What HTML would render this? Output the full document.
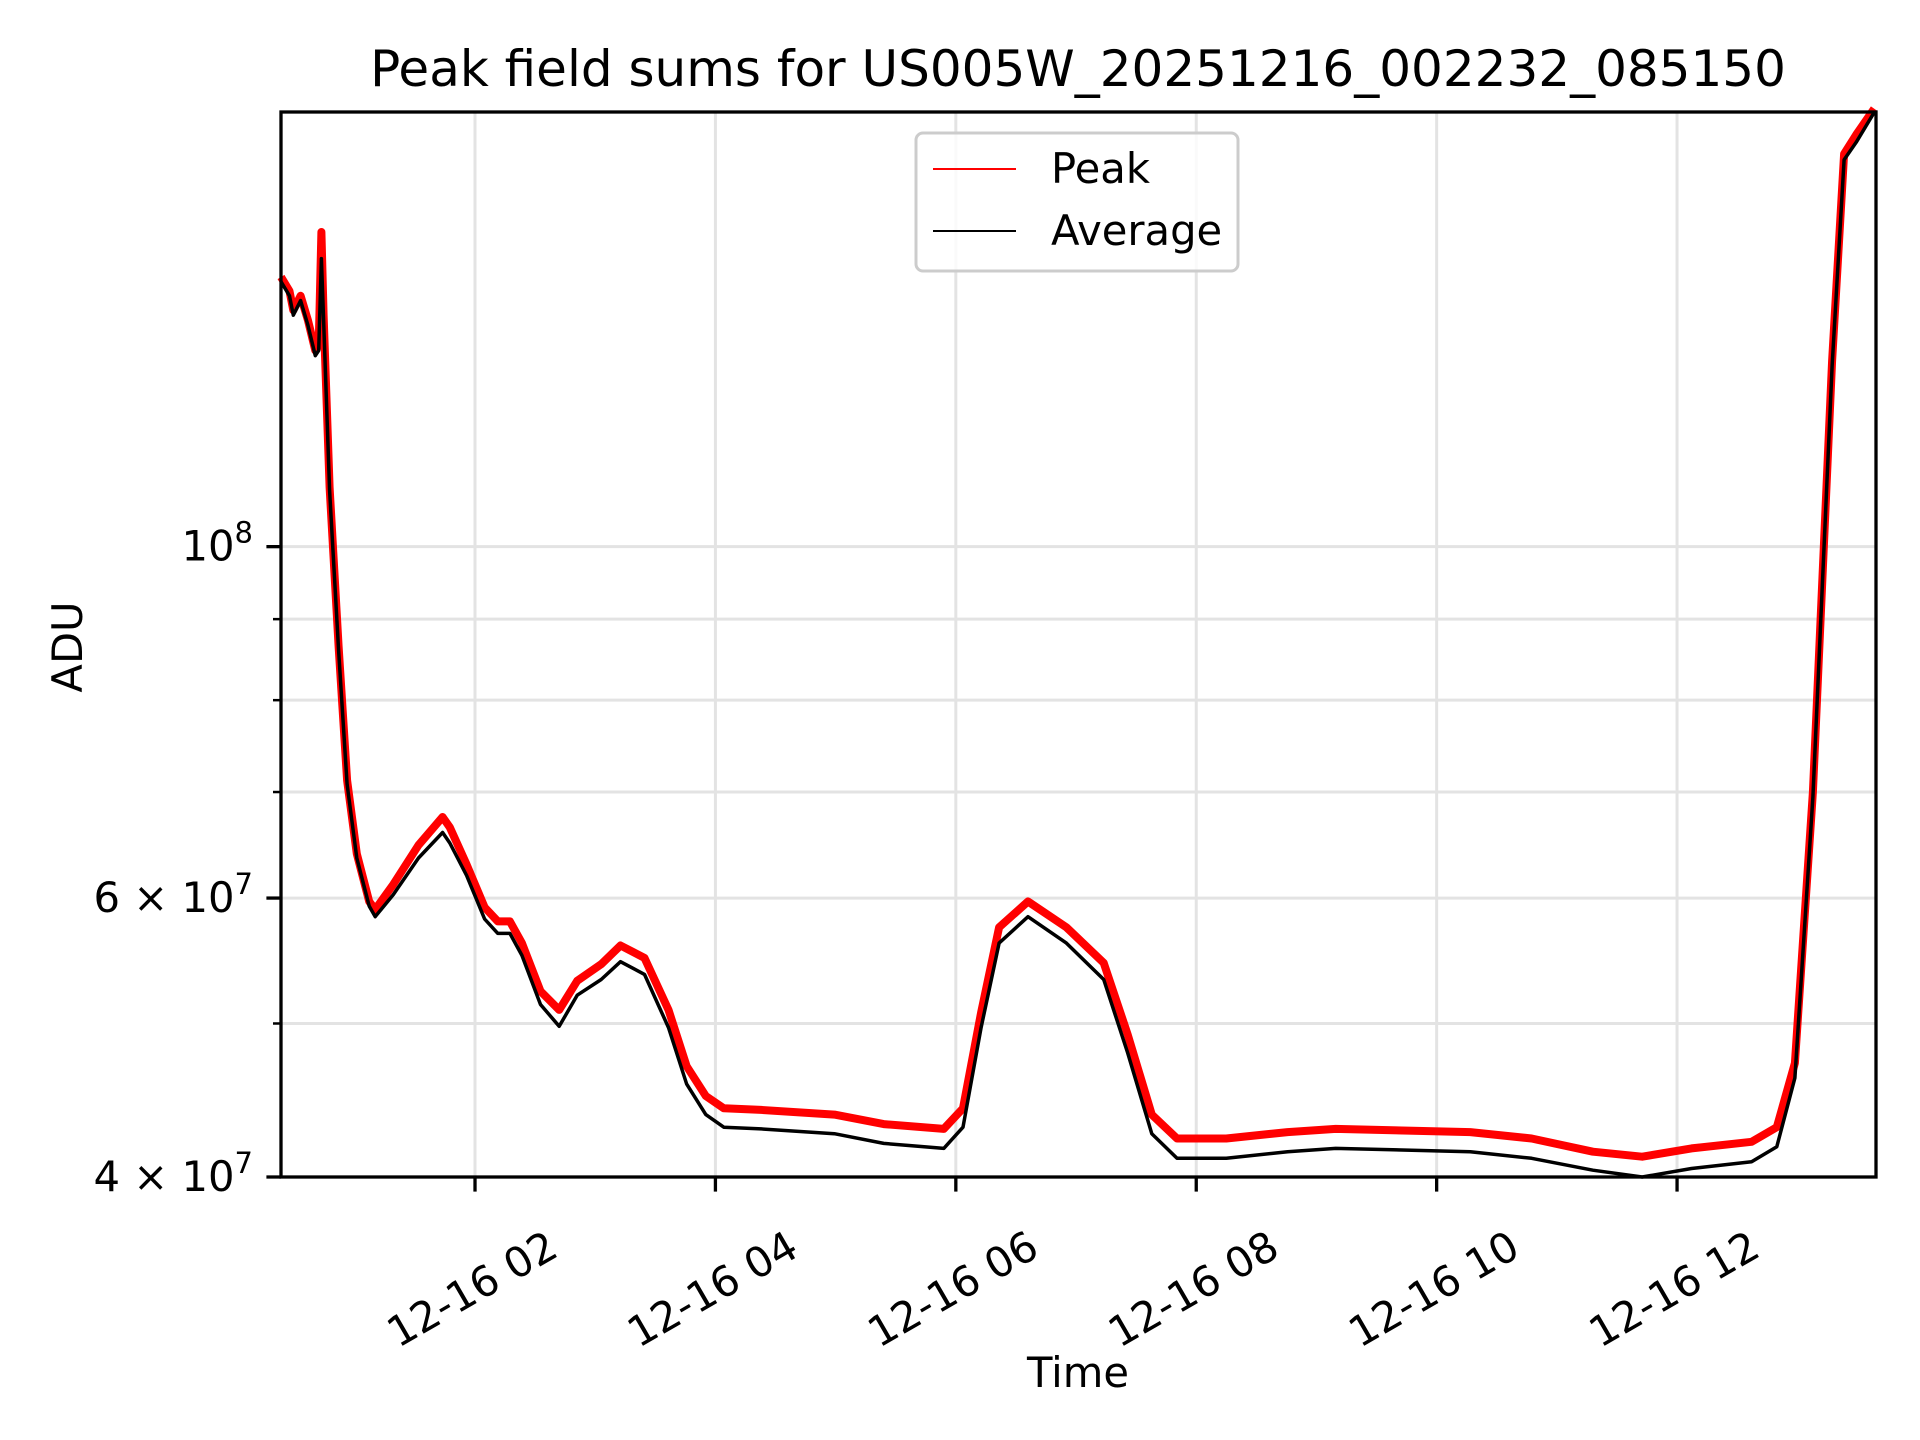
<!DOCTYPE html>
<html><head><meta charset="utf-8"><style>
html,body{margin:0;padding:0;background:#fff;}
svg{display:block;font-family:"DejaVu Sans","Liberation Sans",sans-serif;}
</style></head><body>
<svg id="chart" width="1920" height="1440" viewBox="0 0 1920 1440" xmlns="http://www.w3.org/2000/svg">
<rect width="1920" height="1440" fill="#fff"/>
<text x="1078" y="86" font-size="50" text-anchor="middle">Peak field sums for US005W_20251216_002232_085150</text>
<g id="grid"></g>
<g id="series"></g>
<rect x="281" y="112" width="1595" height="1065" fill="none" stroke="#000" stroke-width="3.3"/>
<g id="axes"></g>
<text x="1078" y="1387" font-size="41.7" text-anchor="middle">Time</text>
<text transform="translate(82,647) rotate(-90)" font-size="41.7" text-anchor="middle">ADU</text>
<g>
<rect x="916" y="133" width="322" height="138" rx="7" fill="#fff" fill-opacity="0.8" stroke="#ccc" stroke-width="3"/>
<line x1="933" y1="169" x2="1016" y2="169" stroke="red" stroke-width="2"/>
<text x="1051" y="183" font-size="41.7">Peak</text>
<line x1="933" y1="231" x2="1016" y2="231" stroke="#000" stroke-width="2"/>
<text x="1051" y="245" font-size="41.7">Average</text>
</g>
</svg>
<script>
const hours = [0.386,0.457,0.488,0.549,0.61,0.671,0.70,0.722,0.74,0.79,0.865,0.936,1.017,1.12,1.17,1.32,1.53,1.73,1.79,1.93,2.08,2.19,2.29,2.39,2.545,2.70,2.85,3.05,3.21,3.41,3.61,3.76,3.92,4.07,4.38,4.99,5.40,5.90,6.06,6.21,6.36,6.60,6.92,7.23,7.43,7.63,7.84,8.25,8.76,9.16,10.28,10.79,11.30,11.71,12.12,12.62,12.83,12.98,13.13,13.29,13.39,13.49,13.64];
const average = [1.47e8,1.44e8,1.40e8,1.43e8,1.38e8,1.32e8,1.33e8,1.52e8,1.39e8,1.085e8,8.6e7,7.08e7,6.36e7,5.93e7,5.84e7,6.03e7,6.36e7,6.6e7,6.5e7,6.2e7,5.82e7,5.7e7,5.7e7,5.52e7,5.14e7,4.98e7,5.21e7,5.33e7,5.47e7,5.37e7,4.97e7,4.58e7,4.38e7,4.3e7,4.29e7,4.26e7,4.2e7,4.17e7,4.3e7,4.97e7,5.62e7,5.84e7,5.62e7,5.33e7,4.79e7,4.26e7,4.11e7,4.11e7,4.15e7,4.17e7,4.15e7,4.11e7,4.04e7,4.0e7,4.05e7,4.09e7,4.18e7,4.62e7,6.95e7,1.30e8,1.755e8,1.80e8,1.88e8];
const peak = [1.48e8,1.45e8,1.41e8,1.44e8,1.39e8,1.33e8,1.34e8,1.58e8,1.40e8,1.09e8,8.65e7,7.12e7,6.4e7,5.97e7,5.9e7,6.12e7,6.48e7,6.75e7,6.65e7,6.3e7,5.92e7,5.8e7,5.8e7,5.62e7,5.24e7,5.1e7,5.32e7,5.45e7,5.6e7,5.5e7,5.1e7,4.7e7,4.5e7,4.42e7,4.41e7,4.38e7,4.32e7,4.29e7,4.42e7,5.08e7,5.75e7,5.97e7,5.75e7,5.46e7,4.92e7,4.38e7,4.23e7,4.23e7,4.27e7,4.29e7,4.27e7,4.23e7,4.15e7,4.12e7,4.17e7,4.21e7,4.3e7,4.72e7,7.0e7,1.31e8,1.77e8,1.82e8,1.89e8];
const xTickHours = [2,4,6,8,10,12];
const xTickLabels = ["12-16 02","12-16 04","12-16 06","12-16 08","12-16 10","12-16 12"];
const yMajorValues = [4e7,6e7,1e8];
const yMajorBase = ["4","6",""];
const yMajorExp = ["7","7","8"];
const yMinorValues = [5e7,7e7,8e7,9e7];

const NS="http://www.w3.org/2000/svg";
const L=281,R=1876,T=112,B=1177;
const x0=0.386,x1=13.655;
const yLo=Math.log10(4e7), pxDec=1584;
function xs(h){return L+(h-x0)/(x1-x0)*(R-L);}
function ys(v){return B-(Math.log10(v)-yLo)*pxDec;}
function mk(tag,attrs,parent){const e=document.createElementNS(NS,tag);for(const k in attrs)e.setAttribute(k,attrs[k]);parent.appendChild(e);return e;}
const grid=document.getElementById('grid'),axes=document.getElementById('axes'),series=document.getElementById('series');

xTickHours.forEach((h,i)=>{
  const x=xs(h);
  const g=mk('line',{x1:x,x2:x,y1:T,y2:B,stroke:'#e3e3e3','stroke-width':3},grid);
  
  
  const t=mk('line',{x1:x,x2:x,y1:B,y2:B+14.6,stroke:'#000','stroke-width':3.3},axes);
  
  
  const cx=x-3, cy=1289;
  const lb=mk('text',{x:cx,y:cy,'font-size':41.7,'text-anchor':'middle','dominant-baseline':'central',transform:`rotate(-30 ${cx} ${cy})`},axes);
  lb.textContent=xTickLabels[i];
  
  
});
yMinorValues.forEach(v=>{
  const y=ys(v);
  const g=mk('line',{x1:L,x2:R,y1:y,y2:y,stroke:'#e3e3e3','stroke-width':3},grid);
  
  
  const t=mk('line',{x1:L-8,x2:L,y1:y,y2:y,stroke:'#000','stroke-width':2.5},axes);
  
  
});
yMajorValues.forEach((v,i)=>{
  const y=ys(v);
  const g=mk('line',{x1:L,x2:R,y1:y,y2:y,stroke:'#e3e3e3','stroke-width':3},grid);
  
  
  const t=mk('line',{x1:L-14.6,x2:L,y1:y,y2:y,stroke:'#000','stroke-width':3.3},axes);
  
  
  const lb=mk('text',{x:L-28,y:y+14,'font-size':41.7,'text-anchor':'end'},axes);
  
  
  const base=yMajorBase[i]?yMajorBase[i]+' \u00d7 10':'10';
  const s1=mk('tspan',{},lb);s1.textContent=base;
  const s2=mk('tspan',{dy:-18,'font-size':29},lb);s2.textContent=yMajorExp[i];
});
function pathFrom(vals){return vals.map((v,i)=>(i?'L':'M')+xs(hours[i]).toFixed(1)+','+ys(v).toFixed(1)).join(' ');}
const pk=mk('path',{d:pathFrom(peak),fill:'none',stroke:'red','stroke-width':8,'stroke-linejoin':'round'},series);


const av=mk('path',{d:pathFrom(average),fill:'none',stroke:'#000','stroke-width':3.5,'stroke-linejoin':'round'},series);


</script>
</body></html>
